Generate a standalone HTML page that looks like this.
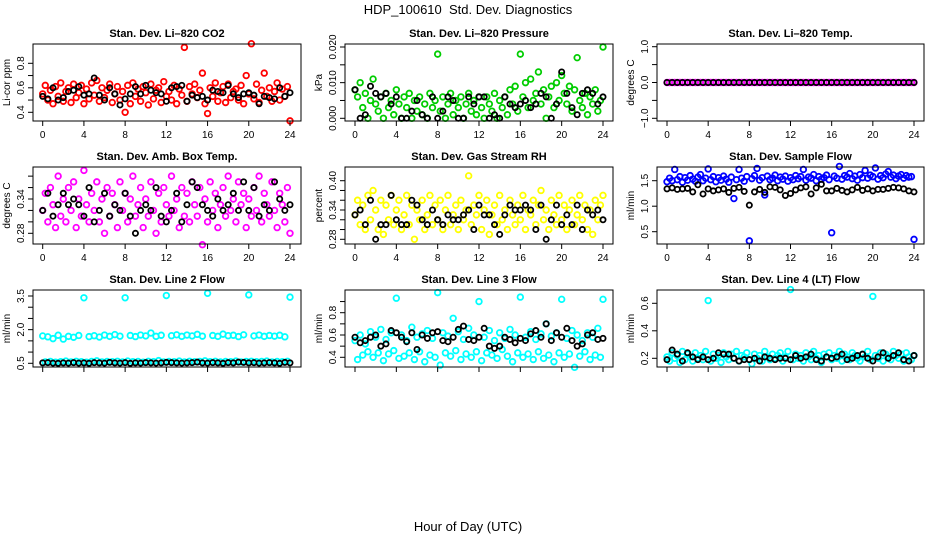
<!DOCTYPE html>
<html><head><meta charset="utf-8"><title>HDP_100610 Std. Dev. Diagnostics</title>
<style>
html,body{margin:0;padding:0;background:#fff;}
svg{display:block;font-family:"Liberation Sans",Arial,sans-serif;}
</style></head>
<body>
<svg id="chart" width="936" height="540" viewBox="0 0 936 540" xmlns="http://www.w3.org/2000/svg">
<text x="468" y="14" text-anchor="middle" font-size="13">HDP_100610&#160; Std. Dev. Diagnostics</text>
<text x="468" y="531" text-anchor="middle" font-size="13">Hour of Day (UTC)</text>
</svg>
<script>
const colorHours=[0,0.25,0.5,0.75,1,1.25,1.5,1.75,2,2.25,2.5,2.75,3,3.25,3.5,3.75,4,4.25,4.5,4.75,5,5.25,5.5,5.75,6,6.25,6.5,6.75,7,7.25,7.5,7.75,8,8.25,8.5,8.75,9,9.25,9.5,9.75,10,10.25,10.5,10.75,11,11.25,11.5,11.75,12,12.25,12.5,12.75,13,13.25,13.5,13.75,14,14.25,14.5,14.75,15,15.25,15.5,15.75,16,16.25,16.5,16.75,17,17.25,17.5,17.75,18,18.25,18.5,18.75,19,19.25,19.5,19.75,20,20.25,20.5,20.75,21,21.25,21.5,21.75,22,22.25,22.5,22.75,23,23.25,23.5,23.75,24];
const blackHours=[0,0.5,1,1.5,2,2.5,3,3.5,4,4.5,5,5.5,6,6.5,7,7.5,8,8.5,9,9.5,10,10.5,11,11.5,12,12.5,13,13.5,14,14.5,15,15.5,16,16.5,17,17.5,18,18.5,19,19.5,20,20.5,21,21.5,22,22.5,23,23.5,24];

const co2Vals=[.55,.62,.50,.58,.47,.61,.53,.64,.49,.57,.60,.48,.63,.52,.56,.62,.47,.59,.51,.64,.54,.66,.49,.60,.52,.58,.63,.48,.55,.61,.50,.57,.40,.62,.47,.64,.53,.59,.49,.61,.56,.46,.63,.51,.58,.60,.48,.65,.53,.57,.50,.62,.47,.59,.54,.93,.49,.61,.55,.63,.52,.58,.72,.47,.39,.60,.53,.64,.49,.56,.61,.48,.63,.52,.57,.59,.50,.62,.47,.70,.55,.96,.51,.63,.48,.58,.72,.53,.60,.49,.57,.64,.50,.59,.53,.61,.33];
const co2Black=[.53,.51,.60,.50,.52,.57,.58,.61,.54,.55,.68,.54,.50,.60,.55,.46,.51,.55,.61,.55,.62,.58,.56,.55,.49,.60,.61,.62,.49,.54,.52,.53,.50,.58,.57,.56,.62,.55,.52,.55,.56,.54,.47,.53,.52,.51,.60,.53,.56];

const pressVals=[.008,.006,.010,.003,.007,0,.005,.011,.004,.002,.006,0,.007,.003,.005,.001,.008,.004,0,.006,.003,.007,0,.005,.002,.006,.001,.004,0,.007,.003,.005,.018,.002,.006,0,.004,.007,.001,.005,.003,.006,0,.004,.007,.002,.005,.001,.006,.003,0,.006,.004,.002,.007,0,.005,.003,.006,.001,.008,.004,.009,.002,.018,.006,.010,.003,.011,.005,.007,.013,.004,.008,0,.006,.009,.003,.010,.005,.012,.007,.004,.009,.002,.008,.017,.005,.003,.007,.001,.006,.004,.008,.002,.005,.020];
const pressBlack=[.008,0,.001,.009,.007,.006,.007,.004,.006,0,0,.002,.005,.001,0,.006,0,.002,.006,.005,0,0,.006,.004,.006,.006,0,.001,0,.006,.004,.003,.004,.005,.003,.004,.007,.006,0,.004,.013,.007,.003,.001,.007,.008,.007,.004,.006];

const tempVals=[0,0,0,0,0,0,0,0,0,0,0,0,0,0,0,0,0,0,0,0,0,0,0,0,0,0,0,0,0,0,0,0,0,0,0,0,0,0,0,0,0,0,0,0,0,0,0,0,0,0,0,0,0,0,0,0,0,0,0,0,0,0,0,0,0,0,0,0,0,0,0,0,0,0,0,0,0,0,0,0,0,0,0,0,0,0,0,0,0,0,0,0,0,0,0,0,0];
const tempBlack=[0,0,0,0,0,0,0,0,0,0,0,0,0,0,0,0,0,0,0,0,0,0,0,0,0,0,0,0,0,0,0,0,0,0,0,0,0,0,0,0,0,0,0,0,0,0,0,0,0];

const ambVals=[.32,.35,.30,.36,.33,.29,.38,.31,.34,.30,.36,.32,.37,.29,.34,.31,.39,.33,.30,.35,.32,.37,.30,.34,.28,.36,.31,.35,.33,.29,.37,.32,.35,.30,.34,.38,.31,.33,.36,.29,.34,.31,.37,.32,.28,.35,.30,.36,.33,.31,.38,.32,.34,.29,.36,.31,.35,.30,.37,.33,.31,.36,.26,.34,.30,.37,.32,.35,.29,.33,.36,.31,.38,.32,.34,.30,.37,.33,.35,.29,.34,.31,.36,.32,.38,.30,.35,.33,.31,.37,.32,.29,.35,.33,.30,.36,.28];
const ambBlack=[.32,.35,.31,.33,.35,.33,.34,.33,.31,.36,.30,.32,.35,.31,.33,.32,.35,.31,.28,.32,.33,.32,.36,.31,.30,.32,.35,.30,.33,.37,.36,.33,.32,.31,.34,.32,.33,.35,.32,.37,.32,.36,.31,.33,.32,.37,.34,.32,.33];

const rhVals=[.33,.36,.31,.35,.30,.37,.32,.38,.34,.30,.36,.29,.35,.32,.37,.31,.34,.36,.30,.33,.37,.31,.35,.28,.34,.32,.36,.30,.33,.37,.31,.35,.32,.36,.30,.34,.37,.31,.33,.35,.30,.36,.32,.34,.41,.31,.35,.33,.37,.30,.34,.36,.29,.33,.35,.31,.37,.32,.34,.30,.36,.33,.31,.35,.32,.37,.30,.34,.33,.36,.31,.35,.38,.32,.34,.30,.36,.33,.31,.37,.32,.35,.30,.34,.36,.31,.33,.37,.32,.35,.30,.34,.29,.36,.32,.35,.37];
const rhBlack=[.33,.34,.31,.36,.28,.31,.31,.37,.32,.31,.31,.36,.35,.32,.31,.34,.32,.31,.33,.32,.32,.33,.34,.30,.35,.33,.33,.31,.29,.33,.35,.34,.34,.35,.34,.30,.35,.28,.32,.35,.31,.33,.31,.35,.30,.34,.33,.34,.32];

const sampleVals=[1.48,1.55,1.50,1.72,1.52,1.58,1.47,1.56,1.51,1.60,1.53,1.49,1.57,1.62,1.50,1.55,1.73,1.52,1.58,1.48,1.56,1.51,1.59,1.53,1.47,1.57,1.15,1.52,1.72,1.55,1.49,1.58,0.32,1.54,1.60,1.74,1.51,1.56,1.22,1.59,1.52,1.55,1.61,1.50,1.57,1.53,1.59,1.49,1.56,1.52,1.60,1.54,1.58,1.72,1.51,1.57,1.55,1.62,1.50,1.58,1.53,1.56,1.61,1.52,0.48,1.59,1.55,1.78,1.53,1.60,1.57,1.64,1.54,1.59,1.51,1.62,1.56,1.70,1.55,1.61,1.58,1.75,1.53,1.60,1.56,1.63,1.68,1.57,1.61,1.54,1.59,1.62,1.55,1.60,1.57,1.58,0.35];
const sampleBlack=[1.34,1.36,1.33,1.34,1.35,1.28,1.42,1.24,1.34,1.30,1.32,1.34,1.27,1.35,1.37,1.29,1.02,1.28,1.33,1.27,1.38,1.37,1.32,1.21,1.25,1.32,1.36,1.38,1.24,1.36,1.43,1.30,1.30,1.35,1.31,1.28,1.32,1.37,1.31,1.34,1.30,1.33,1.33,1.35,1.37,1.36,1.34,1.30,1.28];

const line2Vals=[1.72,.56,1.68,.58,1.60,.55,1.75,.57,1.58,.60,1.70,.56,1.66,.59,1.74,.57,3.42,.55,1.69,.58,1.73,.61,1.67,.56,1.76,.58,1.70,.57,1.78,.59,1.71,.56,3.42,.60,1.74,.57,1.69,.58,1.76,.55,1.72,.59,1.85,.57,1.70,.62,1.75,.56,3.52,.58,1.73,.57,1.77,.60,1.70,.56,1.76,.59,1.72,.57,1.79,.58,1.71,.61,3.62,.57,1.74,.59,1.70,.56,1.80,.58,1.73,.57,1.75,.60,1.69,.56,1.77,.58,3.55,.59,1.72,.57,1.76,.58,1.70,.60,1.74,.56,1.71,.58,1.75,.57,1.68,.59,3.45];
const line2Black=[.52,.53,.51,.50,.52,.51,.53,.51,.52,.50,.53,.52,.51,.54,.52,.51,.53,.50,.52,.51,.53,.52,.51,.52,.54,.53,.52,.51,.52,.53,.55,.52,.51,.53,.52,.50,.53,.52,.55,.54,.52,.53,.51,.52,.53,.52,.50,.54,.52];

const line3Vals=[.55,.38,.60,.42,.52,.45,.63,.40,.58,.44,.65,.37,.56,.43,.62,.46,.93,.39,.60,.41,.55,.44,.67,.38,.58,.45,.61,.36,.64,.42,.57,.40,.98,.33,.62,.44,.59,.41,.75,.46,.63,.38,.56,.43,.66,.40,.60,.45,.90,.37,.58,.44,.64,.42,.55,.39,.62,.47,.57,.41,.65,.36,.60,.44,.94,.40,.58,.43,.63,.38,.56,.45,.61,.39,.70,.42,.59,.36,.62,.44,.92,.40,.57,.43,.64,.31,.60,.41,.55,.45,.62,.38,.58,.42,.66,.40,.92];
const line3Black=[.58,.53,.55,.58,.60,.50,.52,.64,.62,.58,.54,.62,.47,.60,.57,.62,.63,.55,.54,.58,.65,.68,.56,.55,.58,.66,.50,.48,.50,.58,.56,.53,.57,.55,.61,.64,.58,.70,.55,.62,.58,.66,.55,.50,.52,.60,.62,.56,.57];

const line4Vals=[.21,.18,.24,.20,.22,.17,.25,.19,.23,.21,.18,.24,.20,.22,.19,.25,.62,.18,.23,.20,.22,.17,.24,.21,.19,.23,.20,.25,.18,.22,.21,.24,.19,.16,.23,.20,.22,.18,.25,.21,.19,.23,.20,.22,.24,.18,.21,.25,.70,.19,.23,.20,.22,.18,.24,.21,.19,.25,.20,.22,.17,.23,.21,.24,.19,.22,.20,.25,.18,.23,.21,.19,.24,.22,.20,.18,.23,.21,.25,.19,.65,.22,.20,.24,.18,.23,.21,.19,.25,.22,.20,.23,.18,.24,.21,.19,.22];
const line4Black=[.19,.26,.23,.18,.24,.21,.19,.21,.19,.20,.24,.23,.23,.20,.18,.19,.19,.20,.18,.21,.20,.19,.20,.20,.19,.22,.20,.21,.23,.19,.18,.21,.20,.21,.23,.19,.20,.22,.23,.20,.18,.21,.24,.20,.22,.24,.19,.18,.22];

const xTicks=[0,4,8,12,16,20,24];

const panels=[
 {name:'co2',title:'Stan. Dev. Li\u2013820 CO2',ylab:'Li-cor ppm',col:0,row:0,color:'#ff0000',vals:co2Vals,blk:co2Black,v0:.4,p0:112.3,v1:.8,p1:63.3,ticks:[.4,.5,.6,.7,.8],labels:[[.4,'0.4'],[.6,'0.6'],[.8,'0.8']]},
 {name:'pressure',title:'Stan. Dev. Li\u2013820 Pressure',ylab:'kPa',col:1,row:0,color:'#00cd00',vals:pressVals,blk:pressBlack,v0:0,p0:118.3,v1:.02,p1:47,ticks:[0,.005,.01,.015,.02],labels:[[0,'0.000'],[.01,'0.010'],[.02,'0.020']]},
 {name:'temp',title:'Stan. Dev. Li\u2013820 Temp.',ylab:'degrees C',col:2,row:0,color:'#ff00ff',vals:tempVals,blk:tempBlack,v0:-1,p0:118.3,v1:1,p1:46.7,ticks:[-1,-.5,0,.5,1],labels:[[-1,'\u22121.0'],[0,'0.0'],[1,'1.0']]},
 {name:'amb-box-temp',title:'Stan. Dev. Amb. Box Temp.',ylab:'degrees C',col:0,row:1,color:'#ff00ff',vals:ambVals,blk:ambBlack,v0:.28,p0:233.3,v1:.34,p1:199,ticks:[.28,.30,.32,.34,.36,.38],labels:[[.28,'0.28'],[.34,'0.34']]},
 {name:'gas-stream-rh',title:'Stan. Dev. Gas Stream RH',ylab:'percent',col:1,row:1,color:'#ffff00',vals:rhVals,blk:rhBlack,v0:.28,p0:239.3,v1:.34,p1:210,ticks:[.28,.30,.32,.34,.36,.38,.40],labels:[[.28,'0.28'],[.34,'0.34'],[.40,'0.40']]},
 {name:'sample-flow',title:'Stan. Dev. Sample Flow',ylab:'ml/min',col:2,row:1,color:'#0000ff',vals:sampleVals,blk:sampleBlack,v0:.5,p0:231.7,v1:1.5,p1:180.7,ticks:[.5,1,1.5],labels:[[.5,'0.5'],[1,'1.0'],[1.5,'1.5']]},
 {name:'line2-flow',title:'Stan. Dev. Line 2 Flow',ylab:'ml/min',col:0,row:2,color:'#00ffff',vals:line2Vals,blk:line2Black,v0:.5,p0:363.3,v1:3.5,p1:296,ticks:[.5,1,1.5,2,2.5,3,3.5],labels:[[.5,'0.5'],[2,'2.0'],[3.5,'3.5']]},
 {name:'line3-flow',title:'Stan. Dev. Line 3 Flow',ylab:'ml/min',col:1,row:2,color:'#00ffff',vals:line3Vals,blk:line3Black,v0:.4,p0:357.3,v1:.8,p1:312.7,ticks:[.4,.5,.6,.7,.8,.9],labels:[[.4,'0.4'],[.6,'0.6'],[.8,'0.8']]},
 {name:'line4-flow',title:'Stan. Dev. Line 4 (LT) Flow',ylab:'ml/min',col:2,row:2,color:'#00ffff',vals:line4Vals,blk:line4Black,v0:.2,p0:358.3,v1:.6,p1:303.3,ticks:[.2,.4,.6],labels:[[.2,'0.2'],[.4,'0.4'],[.6,'0.6']]}
];

const colBox=[[33,301,42.7,290],[345,613,355,603],[657,924,667,914]];
const rowBox=[[44,121],[167,244],[290,367]];
const NS='http://www.w3.org/2000/svg';
const svg=document.getElementById('chart');
function mk(tag,attrs,parent){const e=document.createElementNS(NS,tag);for(const k in attrs)e.setAttribute(k,attrs[k]);(parent||svg).appendChild(e);return e;}

panels.forEach(p=>{
 const [bl,br,x0,x24]=colBox[p.col];
 const [bt,bb]=rowBox[p.row];
 const xs=h=>x0+(x24-x0)*h/24;
 const ys=v=>p.p0+(p.p1-p.p0)*(v-p.v0)/(p.v1-p.v0);
 const g=mk('g',{});
 
 
 const t=mk('text',{x:(bl+br)/2,y:bt-7,'text-anchor':'middle','font-size':'11','font-weight':'bold'},g);
 t.textContent=p.title;
 
 
 const cg=mk('g',{fill:'none',stroke:p.color,'stroke-width':'1.8'},g);
 
 
 p.vals.forEach((v,i)=>{
  const c=mk('circle',{cx:xs(colorHours[i]),cy:ys(v),r:'2.8'},cg);
  
  
 });
 const kg=mk('g',{fill:'none',stroke:'#000','stroke-width':'1.8'},g);
 
 
 p.blk.forEach((v,i)=>{
  const c=mk('circle',{cx:xs(blackHours[i]),cy:ys(v),r:'2.6'},kg);
  
  
 });
 const b=mk('rect',{x:bl,y:bt,width:br-bl,height:bb-bt,fill:'none',stroke:'#000','stroke-width':'1'},g);
 
 
 const xa=mk('g',{stroke:'#000','stroke-width':'1'},g);
 
 
 mk('line',{x1:xs(xTicks[0]),x2:xs(xTicks[xTicks.length-1]),y1:bb,y2:bb},xa);
 xTicks.forEach(h=>{
  mk('line',{x1:xs(h),x2:xs(h),y1:bb,y2:bb+5},xa);
  if(p.row<2){
   const tl=mk('text',{x:xs(h),y:bb+17,'text-anchor':'middle','font-size':'10',stroke:'none',fill:'#000'},xa);
   tl.textContent=String(h);
   
   
  }
 });
 const ya=mk('g',{stroke:'#000','stroke-width':'1'},g);
 
 
 mk('line',{x1:bl,x2:bl,y1:ys(p.ticks[0]),y2:ys(p.ticks[p.ticks.length-1])},ya);
 p.ticks.forEach(v=>mk('line',{x1:bl-5,x2:bl,y1:ys(v),y2:ys(v)},ya));
 p.labels.forEach(([v,s])=>{
  const x=bl-9,y=ys(v);
  const tl=mk('text',{x:x,y:y,'text-anchor':'middle','font-size':'10',stroke:'none',fill:'#000',transform:`rotate(-90 ${x} ${y})`},ya);
  tl.textContent=s;
  
  
 });
 const yx=bl-23,yy=(bt+bb)/2;
 const yt=mk('text',{x:yx,y:yy,'text-anchor':'middle','font-size':'10',transform:`rotate(-90 ${yx} ${yy})`},g);
 yt.textContent=p.ylab;
 
 
});
</script>
</body></html>
